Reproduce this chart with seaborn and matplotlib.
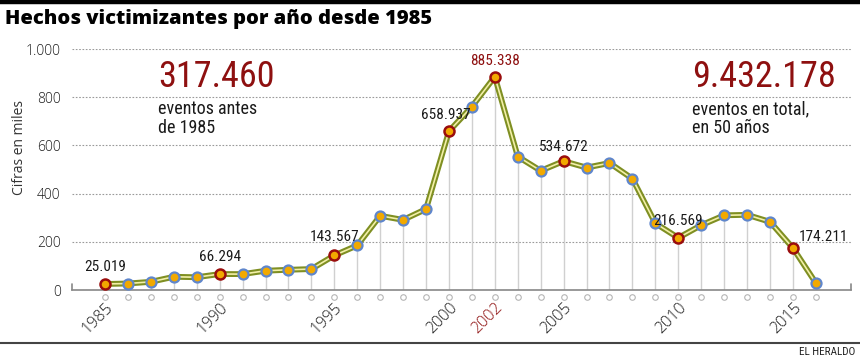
import matplotlib
matplotlib.use('Agg')
import matplotlib.pyplot as plt
from matplotlib.lines import Line2D
import seaborn as sns
import pandas as pd

# Hechos victimizantes por año (en miles)
anios = list(range(1985, 2017))
valores = [25.019, 27, 34, 55, 53, 66.294, 66, 80, 84, 87,
           143.567, 185, 308, 291, 336, 658.937, 761, 885.338, 554, 495,
           534.672, 508, 527, 462, 277, 216.569, 269, 310, 312, 283,
           174.211, 29]
destacados = [1985, 1990, 1995, 2000, 2002, 2005, 2010, 2015]
etiquetas_x = [1985, 1990, 1995, 2000, 2002, 2005, 2010, 2015]
etiquetas_y = ['0', '200', '400', '600', '800', '1.000']

df = pd.DataFrame({'anio': anios, 'valor': valores})
df['destacado'] = df['anio'].isin(destacados)

ROJO = '#8e1010'
NARROW = ['Roboto Condensed', 'DejaVu Sans']
GEO = ['Open Sans', 'DejaVu Sans']

sns.set_style('white')
plt.rcParams['font.family'] = GEO

fig = plt.figure(figsize=(8.6, 3.6), dpi=100)
ax = fig.add_axes([0.0837, 0.1944, 0.9058, 0.6694])

# lineas verticales hasta el eje
ax.vlines(df['anio'], 0, df['valor'], color='#d0d0d0', lw=1, zorder=1)

# linea doble
sns.lineplot(data=df, x='anio', y='valor', ax=ax, color='#7f8f22', lw=4.2, zorder=3)
sns.lineplot(data=df, x='anio', y='valor', ax=ax, color='#f3f0a8', lw=1.2, zorder=4)

# puntos
normales = df[~df['destacado']]
rojos = df[df['destacado']]
ax.scatter(normales['anio'], normales['valor'], s=52, facecolor='#f2a900',
           edgecolor='#5f86cc', linewidth=1.6, zorder=5, clip_on=False)
ax.scatter(rojos['anio'], rojos['valor'], s=52, facecolor='#f2a900',
           edgecolor='#9a0d0d', linewidth=1.8, zorder=5, clip_on=False)

# circulitos bajo el eje
ax.scatter(df['anio'], [-27] * len(df), s=16, facecolor='white',
           edgecolor='#b5b5b5', linewidth=0.8, clip_on=False, zorder=2)

# etiquetas de valores
def fmt(v):
    return f'{v:,.3f}'.replace(',', '.')

offsets = {1985: (0, 7, 'center'), 1990: (0, 7, 'center'), 1995: (0, 8, 'center'),
           2000: (-2, 7, 'center'), 2002: (0, 6, 'center'), 2005: (0, 5, 'center'),
           2010: (0, 7, 'center'), 2015: (4, 3, 'left')}
for a, v in zip(rojos['anio'], rojos['valor']):
    dx, dy, ha = offsets[a]
    ax.annotate(fmt(v), (a, v), xytext=(dx, dy), textcoords='offset points',
                ha=ha, va='bottom', fontsize=11, family=NARROW,
                color=ROJO if a == 2002 else '#1a1a1a', zorder=6)

ax.set_xlim(1983.56, 2017.53)
ax.set_ylim(0, 1000)
ax.set_yticks([0, 200, 400, 600, 800, 1000])
ax.set_yticklabels(etiquetas_y, fontsize=10, color='#1a1a1a', fontweight='light')
ax.set_xticks(etiquetas_x)
ax.set_xticklabels([str(a) for a in etiquetas_x], fontsize=11.5, color='#1a1a1a',
                   fontweight='light', rotation=45, ha='right', rotation_mode='anchor')
for t in ax.get_xticklabels():
    if t.get_text() == '2002':
        t.set_color(ROJO)
ax.tick_params(axis='y', length=0, pad=8)
ax.tick_params(axis='x', length=0, pad=7)
ax.yaxis.grid(True, linestyle=(0, (1.5, 1.5)), color='#9a9a9a', lw=0.8)
ax.set_axisbelow(True)
for s in ['top', 'right', 'left']:
    ax.spines[s].set_visible(False)
ax.spines['bottom'].set_color('#888888')
ax.spines['bottom'].set_linewidth(1.2)
ax.plot([0, 0], [0, 0.025], transform=ax.transAxes, color='#888888', lw=1.2, clip_on=False)
ax.plot([1, 1], [0, 0.025], transform=ax.transAxes, color='#888888', lw=1.2, clip_on=False)
ax.set_xlabel('')
ax.set_ylabel('Cifras en miles', fontsize=10, color='#333333')
ax.yaxis.set_label_coords(-0.058, 0.59)

# textos grandes
fig.text(0.184, 0.836, '317.460', fontsize=26, family=NARROW, color=ROJO, va='top')
fig.text(0.184, 0.722, 'eventos antes\nde 1985', fontsize=13, family=NARROW,
         color='#1a1a1a', va='top', linespacing=1.1)
fig.text(0.805, 0.836, '9.432.178', fontsize=26, family=NARROW, color=ROJO, va='top')
fig.text(0.805, 0.722, 'eventos en total,\nen 50 años', fontsize=13, family=NARROW,
         color='#1a1a1a', va='top', linespacing=1.1)

# titulo y marco
fig.text(0.006, 0.975, 'Hechos victimizantes por año desde 1985', fontsize=14.5,
         fontweight='heavy', color='black', va='top', family=GEO)
fig.add_artist(Line2D([0, 1], [0.994, 0.994], color='black', lw=3.2))
fig.add_artist(Line2D([0, 1], [0.047, 0.047], color='#444444', lw=1.5))
fig.text(0.995, 0.008, 'EL HERALDO', fontsize=8, family=NARROW, color='#222222',
         ha='right', va='bottom')

fig.savefig('out.png', dpi=100)
